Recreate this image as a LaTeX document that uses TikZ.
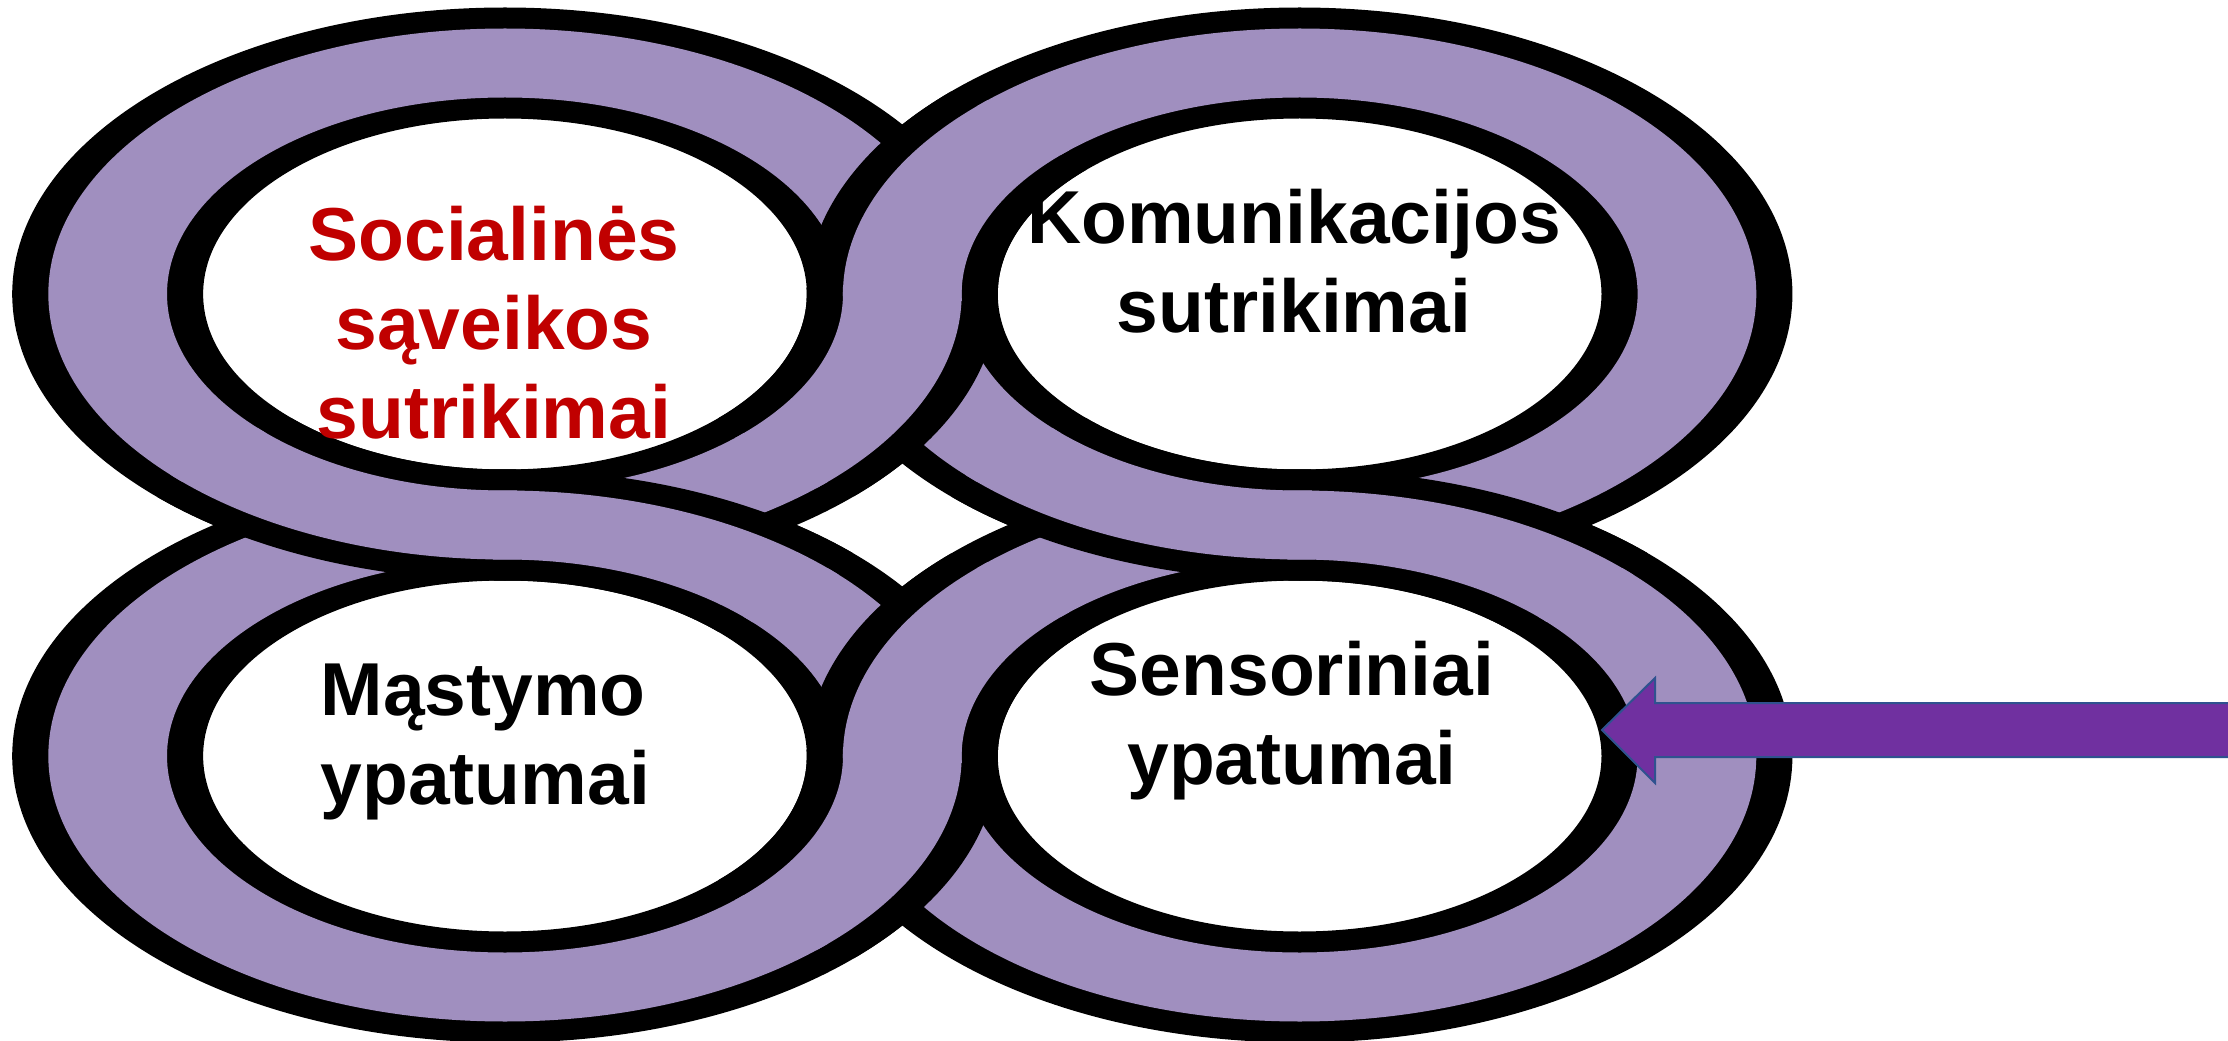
\documentclass[tikz,border=0pt]{standalone}
\usepackage{fontspec}
\setmainfont{Liberation Sans}
\definecolor{ringpurple}{RGB}{160,143,191}
\definecolor{arrowpurple}{RGB}{112,48,160}
\definecolor{arrowedge}{RGB}{47,82,143}
\definecolor{labelred}{RGB}{192,0,0}
\begin{document}
\begin{tikzpicture}[x=0.3pt,y=0.3pt,
  bandedge/.style={line width=33.3pt, draw=black},
  bandfill/.style={line width=20.7pt, draw=ringpurple},
  txt/.style={inner sep=0pt, align=center, font=\fontsize{22.5}{26.7}\selectfont\bfseries},
  blockarrow/.style={fill=arrowpurple, draw=arrowedge, line width=0.6pt}]
\useasboundingbox[fill=white] (0,0) rectangle (2228,1040);
\begin{scope}[transform canvas={xscale=1.72}]
  \coordinate (TL) at (293.6,746);
  \coordinate (TR) at (755.6,746);
  \coordinate (BL) at (293.6,284);
  \coordinate (BR) at (755.6,284);
  \foreach \ctr in {TL,TR,BL,BR} \draw[bandedge] (\ctr) circle[radius=231];
  \foreach \ctr in {TL,TR,BL,BR} \draw[bandfill] (\ctr) circle[radius=231];
  \foreach \ctr/\aa/\bb in {TL/225/272, BL/92/45, TR/225/272, BR/92/45, TR/135/182, TL/315/362, BR/135/182, BL/315/362}
    \draw[bandedge] (\ctr) ++(\aa:231) arc[start angle=\aa, end angle=\bb, radius=231];
  \foreach \ctr/\aa/\bb in {TL/223/272, BL/92/43, TR/223/272, BR/92/43, TR/133/182, TL/313/362, BR/133/182, BL/313/362}
    \draw[bandfill] (\ctr) ++(\aa:231) arc[start angle=\aa, end angle=\bb, radius=231];
\end{scope}
\node[txt, text=labelred] (soc) at (494,717) {Socialinės\\sąveikos\\sutrikimai};
\node[txt] (kom) at (1294,778.5) {Komunikacijos\\sutrikimai};
\node[txt, align=left, anchor=west] (mas) at (320,298) {Mąstymo\\ypatumai};
\node[txt] (sen) at (1292,319) {Sensoriniai\\ypatumai};
\coordinate (tip) at (1602,310);
\path[blockarrow] (tip) -- (1655,362) -- (1655,337) -- (2240,337) -- (2240,283) -- (1655,283) -- (1655,257) -- cycle;
\end{tikzpicture}
\end{document}
